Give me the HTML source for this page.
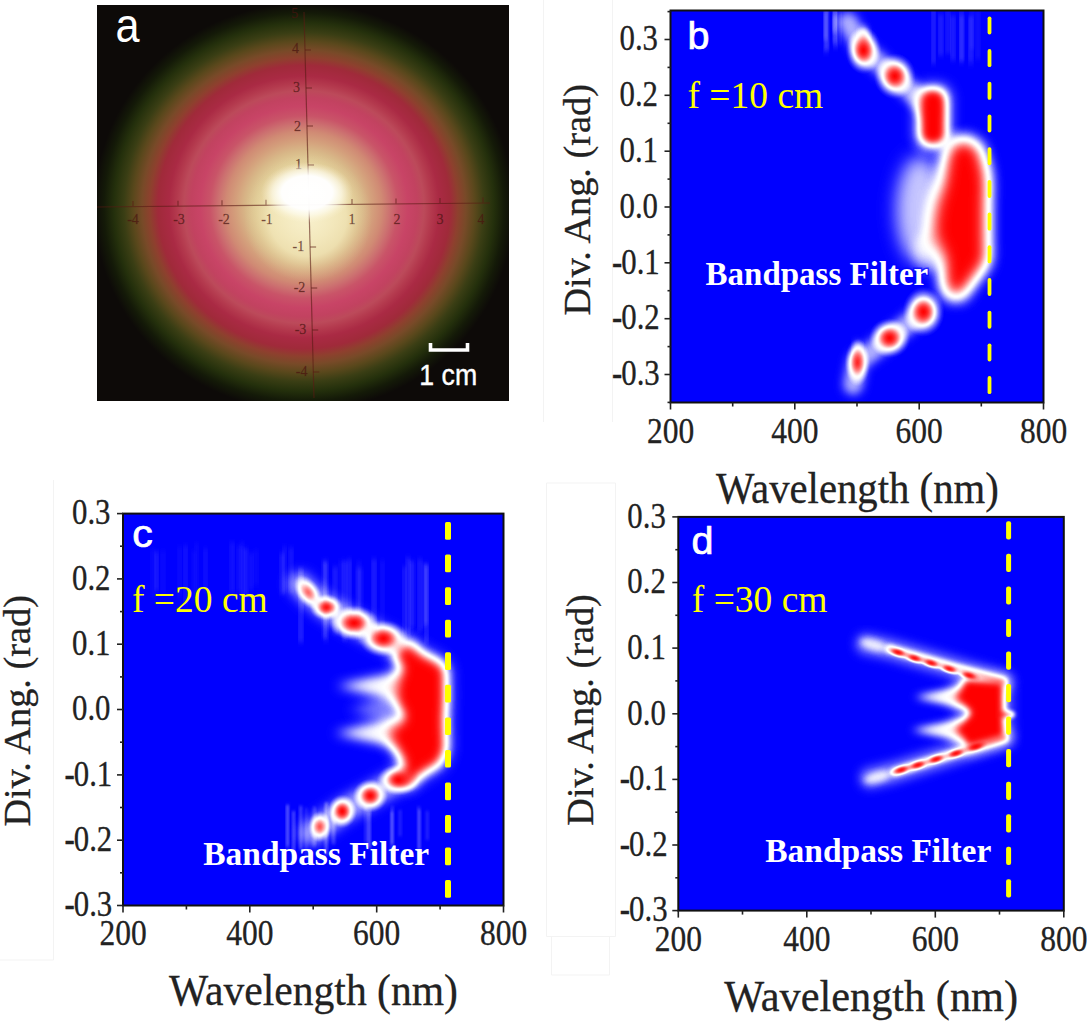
<!DOCTYPE html><html><head><meta charset="utf-8"><style>html,body{margin:0;padding:0;background:#fff;width:1087px;height:1023px;overflow:hidden}svg{display:block}</style></head><body>
<svg width="1087" height="1023" viewBox="0 0 1087 1023">
<defs>
<filter id="g1_8" x="-50%" y="-50%" width="200%" height="200%" color-interpolation-filters="sRGB"><feGaussianBlur stdDeviation="1.8"/></filter><filter id="g2_2" x="-50%" y="-50%" width="200%" height="200%" color-interpolation-filters="sRGB"><feGaussianBlur stdDeviation="2.2"/></filter><filter id="g2_5" x="-50%" y="-50%" width="200%" height="200%" color-interpolation-filters="sRGB"><feGaussianBlur stdDeviation="2.5"/></filter><filter id="g3" x="-50%" y="-50%" width="200%" height="200%" color-interpolation-filters="sRGB"><feGaussianBlur stdDeviation="3"/></filter><filter id="g3_8" x="-50%" y="-50%" width="200%" height="200%" color-interpolation-filters="sRGB"><feGaussianBlur stdDeviation="3.8"/></filter><filter id="g4_5" x="-50%" y="-50%" width="200%" height="200%" color-interpolation-filters="sRGB"><feGaussianBlur stdDeviation="4.5"/></filter><filter id="g5" x="-50%" y="-50%" width="200%" height="200%" color-interpolation-filters="sRGB"><feGaussianBlur stdDeviation="5"/></filter><filter id="g5_5" x="-50%" y="-50%" width="200%" height="200%" color-interpolation-filters="sRGB"><feGaussianBlur stdDeviation="5.5"/></filter><filter id="g6" x="-50%" y="-50%" width="200%" height="200%" color-interpolation-filters="sRGB"><feGaussianBlur stdDeviation="6"/></filter><filter id="g7" x="-50%" y="-50%" width="200%" height="200%" color-interpolation-filters="sRGB"><feGaussianBlur stdDeviation="7"/></filter><filter id="g7_5" x="-50%" y="-50%" width="200%" height="200%" color-interpolation-filters="sRGB"><feGaussianBlur stdDeviation="7.5"/></filter><filter id="g9" x="-50%" y="-50%" width="200%" height="200%" color-interpolation-filters="sRGB"><feGaussianBlur stdDeviation="9"/></filter>
<clipPath id="clipb"><rect x="670.5" y="10.5" width="373.0" height="392.0"/></clipPath>
<clipPath id="clipc"><rect x="123.0" y="513.6" width="380.5" height="391.9"/></clipPath>
<clipPath id="clipd"><rect x="678.3" y="516.9" width="385.5" height="393.7"/></clipPath>
<radialGradient id="rings" gradientUnits="userSpaceOnUse" cx="304" cy="207" r="210" gradientTransform="translate(304 207) scale(1 0.97) translate(-304 -207)">
<stop offset="0.0000" stop-color="#f8f2d0"/>
<stop offset="0.0952" stop-color="#f4ecc2"/>
<stop offset="0.1667" stop-color="#ecdeac"/>
<stop offset="0.2286" stop-color="#e0cc96"/>
<stop offset="0.2762" stop-color="#d8b888"/>
<stop offset="0.3238" stop-color="#d4a07c"/>
<stop offset="0.3714" stop-color="#d08a74"/>
<stop offset="0.4095" stop-color="#cc7070"/>
<stop offset="0.4476" stop-color="#c95468"/>
<stop offset="0.4952" stop-color="#c84466"/>
<stop offset="0.5381" stop-color="#c24260"/>
<stop offset="0.5714" stop-color="#bc4a5a"/>
<stop offset="0.6048" stop-color="#b43a4e"/>
<stop offset="0.6429" stop-color="#aa2a44"/>
<stop offset="0.6952" stop-color="#a02a3a"/>
<stop offset="0.7333" stop-color="#8e402e"/>
<stop offset="0.7714" stop-color="#784a28"/>
<stop offset="0.8143" stop-color="#5a481c"/>
<stop offset="0.8571" stop-color="#3a3e14"/>
<stop offset="0.9048" stop-color="#24300c"/>
<stop offset="0.9524" stop-color="#141a08"/>
<stop offset="1.0000" stop-color="#0d0a08"/>
</radialGradient>
<radialGradient id="spot" gradientUnits="userSpaceOnUse" cx="307" cy="192.5" r="46" gradientTransform="translate(307 192.5) scale(1 0.66) translate(-307 -192.5)">
<stop offset="0" stop-color="#ffffff" stop-opacity="1"/>
<stop offset="0.55" stop-color="#ffffff" stop-opacity="0.97"/>
<stop offset="0.75" stop-color="#fffef4" stop-opacity="0.6"/>
<stop offset="0.9" stop-color="#fffae6" stop-opacity="0.2"/>
<stop offset="1" stop-color="#fff8e0" stop-opacity="0"/>
</radialGradient>
<radialGradient id="cream" gradientUnits="userSpaceOnUse" cx="308" cy="218" r="64">
<stop offset="0" stop-color="#f8f0cc" stop-opacity="0.9"/>
<stop offset="0.6" stop-color="#f2e6b8" stop-opacity="0.75"/>
<stop offset="0.8" stop-color="#e8d4a0" stop-opacity="0.35"/>
<stop offset="1" stop-color="#e0c898" stop-opacity="0"/>
</radialGradient>
<filter id="cmap" x="0" y="0" width="1" height="1" color-interpolation-filters="sRGB"><feComponentTransfer><feFuncR type="table" tableValues="0 0.1 0.21 0.33 0.45 0.57 0.69 0.8 0.9 0.97 1 1 1 1 1 1 1 1 1 1 1"/><feFuncG type="table" tableValues="0 0.1 0.21 0.33 0.45 0.57 0.69 0.8 0.9 0.97 1 0.97 0.9 0.8 0.69 0.57 0.45 0.33 0.21 0.1 0"/><feFuncB type="table" tableValues="1 1 1 1 1 1 1 1 1 1 1 0.97 0.9 0.8 0.69 0.57 0.45 0.33 0.21 0.1 0"/></feComponentTransfer></filter>
<radialGradient id="gsp"><stop offset="0" stop-color="#fff" stop-opacity="1"/><stop offset="0.1" stop-color="#fff" stop-opacity="0.96"/><stop offset="0.2" stop-color="#fff" stop-opacity="0.89"/><stop offset="0.3" stop-color="#fff" stop-opacity="0.79"/><stop offset="0.4" stop-color="#fff" stop-opacity="0.66"/><stop offset="0.5" stop-color="#fff" stop-opacity="0.5"/><stop offset="0.6" stop-color="#fff" stop-opacity="0.34"/><stop offset="0.7" stop-color="#fff" stop-opacity="0.22"/><stop offset="0.8" stop-color="#fff" stop-opacity="0.13"/><stop offset="0.9" stop-color="#fff" stop-opacity="0.05"/><stop offset="1" stop-color="#fff" stop-opacity="0"/></radialGradient>
</defs>
<g stroke="#f3f3f3" stroke-width="1" fill="none">
<path d="M543.5 0 V422 M612.5 0 V422"/>
<path d="M53.5 480 V960 H0"/>
<path d="M546.5 483 H615.5 V936.5 H546.5 Z M551.5 936.5 V975 H609.5 V936.5"/>
</g>
<rect x="97" y="5" width="412" height="396" fill="#0e0a08"/>
<rect x="97" y="5" width="412" height="396" fill="url(#rings)"/>
<rect x="97" y="5" width="412" height="396" fill="url(#cream)"/>
<g stroke="#5a1a14" stroke-opacity="0.6" stroke-width="1.2" fill="none">
<line x1="97" y1="207" x2="490" y2="203"/>
<line x1="304" y1="12" x2="314" y2="398"/>
<line x1="133" y1="201.1" x2="133" y2="206.1"/>
<line x1="178" y1="200.7" x2="178" y2="205.7"/>
<line x1="222" y1="200.2" x2="222" y2="205.2"/>
<line x1="266" y1="199.8" x2="266" y2="204.8"/>
<line x1="352" y1="198.9" x2="352" y2="203.9"/>
<line x1="396" y1="198.5" x2="396" y2="203.5"/>
<line x1="440" y1="198.0" x2="440" y2="203.0"/>
<line x1="483" y1="197.6" x2="483" y2="202.6"/>
<line x1="305.0" y1="50" x2="311.0" y2="50"/>
<line x1="306.0" y1="88" x2="312.0" y2="88"/>
<line x1="307.0" y1="126" x2="313.0" y2="126"/>
<line x1="308.0" y1="165" x2="314.0" y2="165"/>
<line x1="310.1" y1="247" x2="316.1" y2="247"/>
<line x1="311.2" y1="288" x2="317.2" y2="288"/>
<line x1="312.2" y1="330" x2="318.2" y2="330"/>
<line x1="313.3" y1="372" x2="319.3" y2="372"/>
</g>
<g font-family="'Liberation Serif', serif" font-size="14" fill="#4a1410" fill-opacity="0.7" stroke="#4a1410" stroke-opacity="0.4" stroke-width="0.4" text-anchor="middle">
<text x="133" y="223.5">-4</text>
<text x="179" y="223.5">-3</text>
<text x="224" y="223.5">-2</text>
<text x="267" y="223.5">-1</text>
<text x="352" y="223.5">1</text>
<text x="397" y="223.5">2</text>
<text x="440" y="223.5">3</text>
<text x="481" y="223.5">4</text>
<text x="298.2" y="18" text-anchor="end">5</text>
<text x="299.1" y="53" text-anchor="end">4</text>
<text x="300.1" y="92" text-anchor="end">3</text>
<text x="301.1" y="131" text-anchor="end">2</text>
<text x="302.1" y="169" text-anchor="end">1</text>
<text x="304.2" y="251" text-anchor="end">-1</text>
<text x="305.3" y="292" text-anchor="end">-2</text>
<text x="306.3" y="334" text-anchor="end">-3</text>
<text x="307.4" y="376" text-anchor="end">-4</text>
</g>
<rect x="97" y="5" width="412" height="396" fill="url(#spot)"/>
<text transform="translate(115.6 41.8) scale(0.9 1)" font-family="'Liberation Sans', sans-serif" font-size="48" fill="#fff">a</text>
<path d="M430.5 343 V350 H467.5 V343" stroke="#fff" stroke-width="3.6" fill="none"/>
<text transform="translate(419.3 384.8) scale(0.92 1)" font-family="'Liberation Sans', sans-serif" font-size="29" fill="#fff" stroke="#fff" stroke-width="0.4">1 cm</text>
<g clip-path="url(#clipb)"><g filter="url(#cmap)">
<rect x="650.5" y="-9.5" width="413.0" height="432.0" fill="#000"/>
<rect x="824.3" y="11.0" width="2.4" height="29.4" rx="1.2" fill="#fff" fill-opacity="0.165" filter="url(#g2_5)"/>
<rect x="833.2" y="5.7" width="2.4" height="27.5" rx="1.2" fill="#fff" fill-opacity="0.197" filter="url(#g2_5)"/>
<rect x="824.8" y="7.6" width="2.4" height="45.3" rx="1.2" fill="#fff" fill-opacity="0.146" filter="url(#g2_5)"/>
<rect x="838.0" y="10.2" width="2.4" height="35.5" rx="1.2" fill="#fff" fill-opacity="0.101" filter="url(#g2_5)"/>
<rect x="833.4" y="14.5" width="2.4" height="28.9" rx="1.2" fill="#fff" fill-opacity="0.184" filter="url(#g2_5)"/>
<rect x="834.2" y="5.7" width="2.4" height="42.5" rx="1.2" fill="#fff" fill-opacity="0.163" filter="url(#g2_5)"/>
<rect x="825.7" y="5.3" width="2.4" height="45.0" rx="1.2" fill="#fff" fill-opacity="0.146" filter="url(#g2_5)"/>
<rect x="960.5" y="14.7" width="2.4" height="46.6" rx="1.2" fill="#fff" fill-opacity="0.142" filter="url(#g2_5)"/>
<rect x="939.5" y="13.8" width="2.4" height="42.1" rx="1.2" fill="#fff" fill-opacity="0.144" filter="url(#g2_5)"/>
<rect x="970.9" y="6.1" width="2.4" height="43.6" rx="1.2" fill="#fff" fill-opacity="0.072" filter="url(#g2_5)"/>
<rect x="976.6" y="9.8" width="2.4" height="49.7" rx="1.2" fill="#fff" fill-opacity="0.080" filter="url(#g2_5)"/>
<rect x="946.8" y="9.2" width="2.4" height="44.8" rx="1.2" fill="#fff" fill-opacity="0.109" filter="url(#g2_5)"/>
<rect x="951.8" y="14.9" width="2.4" height="45.7" rx="1.2" fill="#fff" fill-opacity="0.143" filter="url(#g2_5)"/>
<rect x="969.5" y="15.9" width="2.4" height="44.5" rx="1.2" fill="#fff" fill-opacity="0.066" filter="url(#g2_5)"/>
<rect x="969.7" y="15.6" width="2.4" height="49.5" rx="1.2" fill="#fff" fill-opacity="0.107" filter="url(#g2_5)"/>
<rect x="960.2" y="7.3" width="2.4" height="56.3" rx="1.2" fill="#fff" fill-opacity="0.107" filter="url(#g2_5)"/>
<rect x="932.3" y="5.7" width="2.4" height="58.4" rx="1.2" fill="#fff" fill-opacity="0.149" filter="url(#g2_5)"/>
<polyline points="848.0,22.0 863.5,50.0 894.8,76.0 930.0,110.0" fill="none" stroke="#fff" stroke-opacity="0.300" stroke-width="20.0" stroke-linecap="round" stroke-linejoin="round" filter="url(#g5)"/>
<polyline points="923.5,311.8 889.6,338.0 857.5,362.0 853.0,385.0" fill="none" stroke="#fff" stroke-opacity="0.300" stroke-width="20.0" stroke-linecap="round" stroke-linejoin="round" filter="url(#g5)"/>
<ellipse cx="920.0" cy="210.0" rx="24.0" ry="54.0" fill="#fff" fill-opacity="0.340" filter="url(#g9)"/>
<ellipse cx="930.0" cy="252.0" rx="14.0" ry="20.0" fill="#fff" fill-opacity="0.220" filter="url(#g6)"/>
<g opacity="0.250" filter="url(#g7)"><polygon points="965.7,139.0 979.0,147.0 985.5,169.0 987.0,180.0 986.5,209.0 986.5,235.0 987.0,261.0 980.0,271.0 969.5,285.0 961.0,297.0 949.0,296.0 944.0,285.0 943.0,258.0 934.5,240.0 932.5,228.5 936.0,204.0 942.5,183.0 946.0,157.0 951.5,143.0" fill="#fff" stroke="#fff" stroke-width="10.0" stroke-linejoin="round"/></g>
<g opacity="1.000" filter="url(#g7_5)"><polygon points="965.7,139.0 979.0,147.0 985.5,169.0 987.0,180.0 986.5,209.0 986.5,235.0 987.0,261.0 980.0,271.0 969.5,285.0 961.0,297.0 949.0,296.0 944.0,285.0 943.0,258.0 934.5,240.0 932.5,228.5 936.0,204.0 942.5,183.0 946.0,157.0 951.5,143.0" fill="#fff"/></g>
<rect x="914.0" y="83.0" width="38.0" height="68.0" rx="15.0" fill="#fff" fill-opacity="0.300" filter="url(#g6)"/>
<rect x="920.5" y="89.5" width="25.0" height="55.0" rx="11.0" fill="#fff" fill-opacity="1.000" filter="url(#g4_5)"/>
<ellipse cx="863.5" cy="50.3" rx="18.0" ry="24.0" fill="url(#gsp)" fill-opacity="1.00"/>
<ellipse cx="894.8" cy="76.2" rx="21.0" ry="23.0" fill="url(#gsp)" fill-opacity="1.00"/>
<ellipse cx="923.5" cy="311.8" rx="21.0" ry="25.0" fill="url(#gsp)" fill-opacity="1.00"/>
<ellipse cx="889.6" cy="338.0" rx="21.0" ry="20.0" fill="url(#gsp)" fill-opacity="1.00"/>
<ellipse cx="857.5" cy="362.5" rx="13.0" ry="24.0" fill="url(#gsp)" fill-opacity="0.90"/>
<ellipse cx="857.5" cy="350.0" rx="3.0" ry="10.0" fill="#fff" fill-opacity="0.300" filter="url(#g3)"/>
<ellipse cx="864.0" cy="36.0" rx="4.0" ry="10.0" fill="#fff" fill-opacity="0.350" filter="url(#g3)"/>
</g></g>
<g clip-path="url(#clipc)"><g filter="url(#cmap)">
<rect x="103.0" y="493.6" width="420.5" height="431.9" fill="#000"/>
<rect x="162.1" y="550.8" width="2.4" height="42.4" rx="1.2" fill="#fff" fill-opacity="0.052" filter="url(#g2_5)"/>
<rect x="192.9" y="550.5" width="2.4" height="52.0" rx="1.2" fill="#fff" fill-opacity="0.044" filter="url(#g2_5)"/>
<rect x="241.0" y="542.5" width="2.4" height="56.9" rx="1.2" fill="#fff" fill-opacity="0.066" filter="url(#g2_5)"/>
<rect x="280.9" y="552.8" width="2.4" height="42.3" rx="1.2" fill="#fff" fill-opacity="0.120" filter="url(#g2_5)"/>
<rect x="195.3" y="542.8" width="2.4" height="54.1" rx="1.2" fill="#fff" fill-opacity="0.043" filter="url(#g2_5)"/>
<rect x="178.4" y="546.5" width="2.4" height="50.7" rx="1.2" fill="#fff" fill-opacity="0.052" filter="url(#g2_5)"/>
<rect x="155.2" y="551.5" width="2.4" height="39.7" rx="1.2" fill="#fff" fill-opacity="0.117" filter="url(#g2_5)"/>
<rect x="283.3" y="546.2" width="2.4" height="48.1" rx="1.2" fill="#fff" fill-opacity="0.082" filter="url(#g2_5)"/>
<rect x="245.4" y="548.6" width="2.4" height="47.6" rx="1.2" fill="#fff" fill-opacity="0.090" filter="url(#g2_5)"/>
<rect x="289.9" y="547.6" width="2.4" height="46.0" rx="1.2" fill="#fff" fill-opacity="0.098" filter="url(#g2_5)"/>
<rect x="184.4" y="545.3" width="2.4" height="59.2" rx="1.2" fill="#fff" fill-opacity="0.082" filter="url(#g2_5)"/>
<rect x="231.1" y="542.1" width="2.4" height="51.2" rx="1.2" fill="#fff" fill-opacity="0.086" filter="url(#g2_5)"/>
<rect x="151.8" y="548.8" width="2.4" height="48.9" rx="1.2" fill="#fff" fill-opacity="0.045" filter="url(#g2_5)"/>
<rect x="242.9" y="547.1" width="2.4" height="51.5" rx="1.2" fill="#fff" fill-opacity="0.068" filter="url(#g2_5)"/>
<rect x="254.8" y="550.1" width="2.4" height="35.3" rx="1.2" fill="#fff" fill-opacity="0.045" filter="url(#g2_5)"/>
<rect x="250.2" y="552.6" width="2.4" height="37.4" rx="1.2" fill="#fff" fill-opacity="0.077" filter="url(#g2_5)"/>
<rect x="237.7" y="545.5" width="2.4" height="46.8" rx="1.2" fill="#fff" fill-opacity="0.065" filter="url(#g2_5)"/>
<rect x="204.2" y="548.6" width="2.4" height="42.5" rx="1.2" fill="#fff" fill-opacity="0.070" filter="url(#g2_5)"/>
<rect x="406.9" y="557.3" width="2.4" height="79.1" rx="1.2" fill="#fff" fill-opacity="0.131" filter="url(#g2_5)"/>
<rect x="342.2" y="559.4" width="2.4" height="81.6" rx="1.2" fill="#fff" fill-opacity="0.076" filter="url(#g2_5)"/>
<rect x="325.0" y="561.8" width="2.4" height="77.2" rx="1.2" fill="#fff" fill-opacity="0.061" filter="url(#g2_5)"/>
<rect x="343.9" y="560.7" width="2.4" height="81.0" rx="1.2" fill="#fff" fill-opacity="0.098" filter="url(#g2_5)"/>
<rect x="418.6" y="558.9" width="2.4" height="72.9" rx="1.2" fill="#fff" fill-opacity="0.122" filter="url(#g2_5)"/>
<rect x="422.7" y="562.0" width="2.4" height="67.5" rx="1.2" fill="#fff" fill-opacity="0.063" filter="url(#g2_5)"/>
<rect x="372.9" y="559.1" width="2.4" height="82.0" rx="1.2" fill="#fff" fill-opacity="0.142" filter="url(#g2_5)"/>
<rect x="324.5" y="560.1" width="2.4" height="81.1" rx="1.2" fill="#fff" fill-opacity="0.121" filter="url(#g2_5)"/>
<rect x="411.7" y="560.8" width="2.4" height="66.8" rx="1.2" fill="#fff" fill-opacity="0.082" filter="url(#g2_5)"/>
<rect x="409.9" y="560.0" width="2.4" height="71.9" rx="1.2" fill="#fff" fill-opacity="0.096" filter="url(#g2_5)"/>
<rect x="357.6" y="561.5" width="2.4" height="81.9" rx="1.2" fill="#fff" fill-opacity="0.067" filter="url(#g2_5)"/>
<rect x="299.5" y="567.4" width="2.4" height="75.2" rx="1.2" fill="#fff" fill-opacity="0.159" filter="url(#g2_5)"/>
<rect x="359.6" y="567.5" width="2.4" height="76.1" rx="1.2" fill="#fff" fill-opacity="0.074" filter="url(#g2_5)"/>
<rect x="403.2" y="566.2" width="2.4" height="72.1" rx="1.2" fill="#fff" fill-opacity="0.107" filter="url(#g2_5)"/>
<rect x="339.3" y="560.8" width="2.4" height="68.8" rx="1.2" fill="#fff" fill-opacity="0.057" filter="url(#g2_5)"/>
<rect x="381.2" y="560.2" width="2.4" height="81.0" rx="1.2" fill="#fff" fill-opacity="0.055" filter="url(#g2_5)"/>
<rect x="425.3" y="564.6" width="2.4" height="78.8" rx="1.2" fill="#fff" fill-opacity="0.149" filter="url(#g2_5)"/>
<rect x="424.8" y="563.3" width="2.4" height="61.9" rx="1.2" fill="#fff" fill-opacity="0.132" filter="url(#g2_5)"/>
<rect x="322.9" y="560.3" width="2.4" height="78.0" rx="1.2" fill="#fff" fill-opacity="0.108" filter="url(#g2_5)"/>
<rect x="356.7" y="567.3" width="2.4" height="69.9" rx="1.2" fill="#fff" fill-opacity="0.088" filter="url(#g2_5)"/>
<rect x="334.1" y="566.5" width="2.4" height="68.1" rx="1.2" fill="#fff" fill-opacity="0.136" filter="url(#g2_5)"/>
<rect x="348.1" y="559.2" width="2.4" height="76.5" rx="1.2" fill="#fff" fill-opacity="0.140" filter="url(#g2_5)"/>
<rect x="292.4" y="810.7" width="2.4" height="50.7" rx="1.2" fill="#fff" fill-opacity="0.177" filter="url(#g1_8)"/>
<rect x="325.0" y="802.1" width="2.4" height="53.5" rx="1.2" fill="#fff" fill-opacity="0.184" filter="url(#g1_8)"/>
<rect x="286.3" y="805.0" width="2.4" height="43.4" rx="1.2" fill="#fff" fill-opacity="0.143" filter="url(#g1_8)"/>
<rect x="304.9" y="807.2" width="2.4" height="51.3" rx="1.2" fill="#fff" fill-opacity="0.080" filter="url(#g1_8)"/>
<rect x="286.5" y="803.4" width="2.4" height="42.1" rx="1.2" fill="#fff" fill-opacity="0.088" filter="url(#g1_8)"/>
<rect x="332.5" y="811.4" width="2.4" height="33.3" rx="1.2" fill="#fff" fill-opacity="0.140" filter="url(#g1_8)"/>
<rect x="299.6" y="805.5" width="2.4" height="44.6" rx="1.2" fill="#fff" fill-opacity="0.158" filter="url(#g1_8)"/>
<rect x="313.1" y="806.0" width="2.4" height="40.9" rx="1.2" fill="#fff" fill-opacity="0.119" filter="url(#g1_8)"/>
<rect x="368.1" y="808.1" width="2.4" height="41.2" rx="1.2" fill="#fff" fill-opacity="0.084" filter="url(#g1_8)"/>
<rect x="364.8" y="804.0" width="2.4" height="38.5" rx="1.2" fill="#fff" fill-opacity="0.104" filter="url(#g1_8)"/>
<rect x="417.5" y="806.2" width="2.4" height="44.8" rx="1.2" fill="#fff" fill-opacity="0.106" filter="url(#g1_8)"/>
<rect x="391.2" y="806.1" width="2.4" height="38.8" rx="1.2" fill="#fff" fill-opacity="0.113" filter="url(#g1_8)"/>
<rect x="390.3" y="809.6" width="2.4" height="34.6" rx="1.2" fill="#fff" fill-opacity="0.072" filter="url(#g1_8)"/>
<rect x="399.0" y="809.6" width="2.4" height="26.8" rx="1.2" fill="#fff" fill-opacity="0.088" filter="url(#g1_8)"/>
<rect x="390.7" y="811.7" width="2.4" height="42.1" rx="1.2" fill="#fff" fill-opacity="0.084" filter="url(#g1_8)"/>
<rect x="426.1" y="810.7" width="2.4" height="29.5" rx="1.2" fill="#fff" fill-opacity="0.092" filter="url(#g1_8)"/>
<rect x="368.0" y="810.9" width="2.4" height="37.3" rx="1.2" fill="#fff" fill-opacity="0.130" filter="url(#g1_8)"/>
<rect x="418.2" y="809.3" width="2.4" height="40.3" rx="1.2" fill="#fff" fill-opacity="0.101" filter="url(#g1_8)"/>
<polyline points="300.0,584.0 308.2,592.4 326.4,607.8 353.8,623.0 382.7,638.2 405.0,650.0" fill="none" stroke="#fff" stroke-opacity="0.280" stroke-width="24.0" stroke-linecap="round" stroke-linejoin="round" filter="url(#g6)"/>
<polyline points="405.0,778.0 398.5,779.8 370.3,795.7 342.2,811.3 319.8,826.7 312.0,833.0" fill="none" stroke="#fff" stroke-opacity="0.280" stroke-width="24.0" stroke-linecap="round" stroke-linejoin="round" filter="url(#g6)"/>
<g opacity="0.500" filter="url(#g6)"><polygon points="402.0,672.0 402.0,700.0 336.0,686.0" fill="#fff"/></g>
<g opacity="0.500" filter="url(#g6)"><polygon points="402.0,718.0 402.0,748.0 334.0,733.0" fill="#fff"/></g>
<g opacity="0.220" filter="url(#g7)"><polygon points="395.0,690.0 395.0,728.0 350.0,710.0" fill="#fff"/></g>
<g opacity="0.300" filter="url(#g7)"><polygon points="397.6,648.0 409.2,645.3 422.5,654.5 439.0,662.7 444.8,669.4 445.0,700.0 444.0,720.0 445.0,749.7 439.0,763.0 422.5,772.9 409.2,782.8 402.0,780.0 404.3,763.0 395.0,745.0 390.0,733.0 398.0,725.0 405.0,716.6 398.0,705.0 396.0,694.0 398.0,680.0 403.0,668.0 398.0,660.0" fill="#fff" stroke="#fff" stroke-width="12.0" stroke-linejoin="round"/></g>
<g opacity="1.000" filter="url(#g5_5)"><polygon points="397.6,648.0 409.2,645.3 422.5,654.5 439.0,662.7 444.8,669.4 445.0,700.0 444.0,720.0 445.0,749.7 439.0,763.0 422.5,772.9 409.2,782.8 402.0,780.0 404.3,763.0 395.0,745.0 390.0,733.0 398.0,725.0 405.0,716.6 398.0,705.0 396.0,694.0 398.0,680.0 403.0,668.0 398.0,660.0" fill="#fff"/></g>
<ellipse cx="308.2" cy="592.4" rx="12.0" ry="20.0" fill="url(#gsp)" fill-opacity="0.75" transform="rotate(-35 308.2 592.4)"/>
<ellipse cx="326.5" cy="607.3" rx="17.0" ry="13.6" fill="url(#gsp)" fill-opacity="0.95"/>
<ellipse cx="354.1" cy="623.0" rx="25.0" ry="18.0" fill="url(#gsp)" fill-opacity="1.00"/>
<ellipse cx="383.4" cy="638.5" rx="25.0" ry="19.0" fill="url(#gsp)" fill-opacity="1.00"/>
<ellipse cx="398.5" cy="779.8" rx="22.0" ry="16.0" fill="url(#gsp)" fill-opacity="1.00"/>
<ellipse cx="370.3" cy="795.7" rx="18.0" ry="17.0" fill="url(#gsp)" fill-opacity="1.00"/>
<ellipse cx="342.2" cy="811.3" rx="15.0" ry="17.0" fill="url(#gsp)" fill-opacity="1.00"/>
<ellipse cx="319.8" cy="826.7" rx="12.0" ry="16.0" fill="url(#gsp)" fill-opacity="0.80"/>
</g></g>
<g clip-path="url(#clipd)"><g filter="url(#cmap)">
<rect x="658.3" y="496.9" width="425.5" height="433.7" fill="#000"/>
<polyline points="866.0,644.0 888.0,648.5 1003.0,681.5" fill="none" stroke="#fff" stroke-opacity="0.200" stroke-width="22.0" stroke-linecap="round" stroke-linejoin="round" filter="url(#g5)"/>
<polyline points="870.0,778.0 893.0,772.5 1004.0,738.0" fill="none" stroke="#fff" stroke-opacity="0.200" stroke-width="22.0" stroke-linecap="round" stroke-linejoin="round" filter="url(#g5)"/>
<g opacity="0.300" filter="url(#g7)"><polygon points="966.0,679.7 1003.0,683.0 1004.0,736.0 969.0,746.0 956.0,729.4 972.5,712.8 956.0,698.0" fill="#fff" stroke="#fff" stroke-width="12.0" stroke-linejoin="round"/></g>
<ellipse cx="874.0" cy="645.0" rx="14.0" ry="5.0" fill="#fff" fill-opacity="0.300" filter="url(#g3)" transform="rotate(16 874.0 645.0)"/>
<ellipse cx="878.0" cy="777.0" rx="14.0" ry="5.0" fill="#fff" fill-opacity="0.300" filter="url(#g3)" transform="rotate(-16 878.0 777.0)"/>
<g opacity="0.520" filter="url(#g4_5)"><polygon points="964.0,686.0 964.0,708.0 914.0,697.0" fill="#fff"/></g>
<g opacity="0.520" filter="url(#g4_5)"><polygon points="964.0,719.0 964.0,741.0 911.0,730.0" fill="#fff"/></g>
<polyline points="890.0,649.0 1003.0,681.5" fill="none" stroke="#fff" stroke-opacity="0.500" stroke-width="8.0" stroke-linecap="round" stroke-linejoin="round" filter="url(#g2_5)"/>
<polyline points="895.0,772.0 1004.0,738.0" fill="none" stroke="#fff" stroke-opacity="0.500" stroke-width="8.0" stroke-linecap="round" stroke-linejoin="round" filter="url(#g2_5)"/>
<g opacity="1.000" filter="url(#g3_8)"><polygon points="966.0,680.5 1002.0,683.0 1003.0,736.0 969.0,745.5 957.0,729.4 972.5,712.8 957.0,698.0" fill="#fff" stroke="#fff" stroke-width="2.0" stroke-linejoin="round"/></g>
<ellipse cx="898.0" cy="652.4" rx="13.0" ry="5.6" fill="url(#gsp)" fill-opacity="0.95" transform="rotate(17 898.0 652.4)"/>
<ellipse cx="914.6" cy="658.2" rx="13.0" ry="5.6" fill="url(#gsp)" fill-opacity="0.95" transform="rotate(17 914.6 658.2)"/>
<ellipse cx="931.1" cy="663.1" rx="13.0" ry="5.6" fill="url(#gsp)" fill-opacity="0.95" transform="rotate(17 931.1 663.1)"/>
<ellipse cx="949.4" cy="668.9" rx="13.0" ry="5.6" fill="url(#gsp)" fill-opacity="0.95" transform="rotate(17 949.4 668.9)"/>
<ellipse cx="969.2" cy="675.5" rx="13.0" ry="5.6" fill="url(#gsp)" fill-opacity="0.95" transform="rotate(17 969.2 675.5)"/>
<ellipse cx="901.3" cy="769.9" rx="13.0" ry="5.6" fill="url(#gsp)" fill-opacity="0.95" transform="rotate(-17 901.3 769.9)"/>
<ellipse cx="917.9" cy="765.0" rx="13.0" ry="5.6" fill="url(#gsp)" fill-opacity="0.95" transform="rotate(-17 917.9 765.0)"/>
<ellipse cx="936.1" cy="759.2" rx="13.0" ry="5.6" fill="url(#gsp)" fill-opacity="0.95" transform="rotate(-17 936.1 759.2)"/>
<ellipse cx="956.0" cy="753.4" rx="13.0" ry="5.6" fill="url(#gsp)" fill-opacity="0.95" transform="rotate(-17 956.0 753.4)"/>
<ellipse cx="975.8" cy="746.7" rx="13.0" ry="5.6" fill="url(#gsp)" fill-opacity="0.95" transform="rotate(-17 975.8 746.7)"/>
<ellipse cx="1006.0" cy="714.5" rx="9.0" ry="3.5" fill="#fff" fill-opacity="0.620" filter="url(#g2_2)"/>
</g></g>
<rect x="987.6" y="16.4" width="3.8" height="18.0" rx="1.9" fill="#ffff00"/>
<rect x="987.6" y="49.1" width="3.8" height="18.0" rx="1.9" fill="#ffff00"/>
<rect x="987.6" y="81.8" width="3.8" height="18.0" rx="1.9" fill="#ffff00"/>
<rect x="987.6" y="114.5" width="3.8" height="18.0" rx="1.9" fill="#ffff00"/>
<rect x="987.6" y="147.2" width="3.8" height="18.0" rx="1.9" fill="#ffff00"/>
<rect x="987.6" y="179.9" width="3.8" height="18.0" rx="1.9" fill="#ffff00"/>
<rect x="987.6" y="212.6" width="3.8" height="18.0" rx="1.9" fill="#ffff00"/>
<rect x="987.6" y="245.3" width="3.8" height="18.0" rx="1.9" fill="#ffff00"/>
<rect x="987.6" y="278.0" width="3.8" height="18.0" rx="1.9" fill="#ffff00"/>
<rect x="987.6" y="310.7" width="3.8" height="18.0" rx="1.9" fill="#ffff00"/>
<rect x="987.6" y="343.4" width="3.8" height="18.0" rx="1.9" fill="#ffff00"/>
<rect x="987.6" y="376.1" width="3.8" height="18.0" rx="1.9" fill="#ffff00"/>
<rect x="445.0" y="522.1" width="6.0" height="17.7" rx="1.5" fill="#ffff00"/>
<rect x="445.0" y="554.6" width="6.0" height="17.7" rx="1.5" fill="#ffff00"/>
<rect x="445.0" y="587.2" width="6.0" height="17.7" rx="1.5" fill="#ffff00"/>
<rect x="445.0" y="619.7" width="6.0" height="17.7" rx="1.5" fill="#ffff00"/>
<rect x="445.0" y="652.3" width="6.0" height="17.7" rx="1.5" fill="#ffff00"/>
<rect x="445.0" y="684.8" width="6.0" height="17.7" rx="1.5" fill="#ffff00"/>
<rect x="445.0" y="717.4" width="6.0" height="17.7" rx="1.5" fill="#ffff00"/>
<rect x="445.0" y="749.9" width="6.0" height="17.7" rx="1.5" fill="#ffff00"/>
<rect x="445.0" y="782.5" width="6.0" height="17.7" rx="1.5" fill="#ffff00"/>
<rect x="445.0" y="815.0" width="6.0" height="17.7" rx="1.5" fill="#ffff00"/>
<rect x="445.0" y="847.6" width="6.0" height="17.7" rx="1.5" fill="#ffff00"/>
<rect x="445.0" y="880.1" width="6.0" height="17.7" rx="1.5" fill="#ffff00"/>
<rect x="1006.1" y="521.3" width="5.0" height="18.2" rx="2.0" fill="#ffff00"/>
<rect x="1006.1" y="553.8" width="5.0" height="18.2" rx="2.0" fill="#ffff00"/>
<rect x="1006.1" y="586.4" width="5.0" height="18.2" rx="2.0" fill="#ffff00"/>
<rect x="1006.1" y="618.9" width="5.0" height="18.2" rx="2.0" fill="#ffff00"/>
<rect x="1006.1" y="651.5" width="5.0" height="18.2" rx="2.0" fill="#ffff00"/>
<rect x="1006.1" y="684.0" width="5.0" height="18.2" rx="2.0" fill="#ffff00"/>
<rect x="1006.1" y="716.6" width="5.0" height="18.2" rx="2.0" fill="#ffff00"/>
<rect x="1006.1" y="749.1" width="5.0" height="18.2" rx="2.0" fill="#ffff00"/>
<rect x="1006.1" y="781.7" width="5.0" height="18.2" rx="2.0" fill="#ffff00"/>
<rect x="1006.1" y="814.2" width="5.0" height="18.2" rx="2.0" fill="#ffff00"/>
<rect x="1006.1" y="846.8" width="5.0" height="18.2" rx="2.0" fill="#ffff00"/>
<rect x="1006.1" y="879.3" width="5.0" height="18.2" rx="2.0" fill="#ffff00"/>
<rect x="670.5" y="10.5" width="373.0" height="392.0" fill="none" stroke="#111" stroke-width="2"/>
<g stroke="#222" stroke-width="1.6">
<line x1="664.5" y1="374.5" x2="670.5" y2="374.5"/>
<line x1="664.5" y1="318.7" x2="670.5" y2="318.7"/>
<line x1="664.5" y1="262.8" x2="670.5" y2="262.8"/>
<line x1="664.5" y1="207.0" x2="670.5" y2="207.0"/>
<line x1="664.5" y1="151.2" x2="670.5" y2="151.2"/>
<line x1="664.5" y1="95.3" x2="670.5" y2="95.3"/>
<line x1="664.5" y1="39.5" x2="670.5" y2="39.5"/>
<line x1="667.5" y1="402.4" x2="670.5" y2="402.4"/>
<line x1="667.5" y1="346.6" x2="670.5" y2="346.6"/>
<line x1="667.5" y1="290.7" x2="670.5" y2="290.7"/>
<line x1="667.5" y1="234.9" x2="670.5" y2="234.9"/>
<line x1="667.5" y1="179.1" x2="670.5" y2="179.1"/>
<line x1="667.5" y1="123.3" x2="670.5" y2="123.3"/>
<line x1="667.5" y1="67.4" x2="670.5" y2="67.4"/>
<line x1="667.5" y1="11.6" x2="670.5" y2="11.6"/>
<line x1="670.5" y1="402.5" x2="670.5" y2="409.5"/>
<line x1="794.8" y1="402.5" x2="794.8" y2="409.5"/>
<line x1="919.2" y1="402.5" x2="919.2" y2="409.5"/>
<line x1="1043.5" y1="402.5" x2="1043.5" y2="409.5"/>
<line x1="732.7" y1="402.5" x2="732.7" y2="406.5"/>
<line x1="857.0" y1="402.5" x2="857.0" y2="406.5"/>
<line x1="981.3" y1="402.5" x2="981.3" y2="406.5"/>
</g>
<text transform="translate(658.00 50.31) scale(0.880 1)" font-family="'Liberation Serif', serif" font-size="35.0" font-weight="normal" fill="#222222" text-anchor="end" stroke="#222222" stroke-width="0.3">0.3</text>
<text transform="translate(658.00 106.14) scale(0.880 1)" font-family="'Liberation Serif', serif" font-size="35.0" font-weight="normal" fill="#222222" text-anchor="end" stroke="#222222" stroke-width="0.3">0.2</text>
<text transform="translate(658.00 161.97) scale(0.880 1)" font-family="'Liberation Serif', serif" font-size="35.0" font-weight="normal" fill="#222222" text-anchor="end" stroke="#222222" stroke-width="0.3">0.1</text>
<text transform="translate(658.00 217.80) scale(0.880 1)" font-family="'Liberation Serif', serif" font-size="35.0" font-weight="normal" fill="#222222" text-anchor="end" stroke="#222222" stroke-width="0.3">0.0</text>
<text transform="translate(658.00 273.63) scale(0.880 1)" font-family="'Liberation Serif', serif" font-size="35.0" font-weight="normal" fill="#222222" text-anchor="end" stroke="#222222" stroke-width="0.3"><tspan font-weight="bold" dx="2">-</tspan><tspan dx="-1">0.1</tspan></text>
<text transform="translate(658.00 329.46) scale(0.880 1)" font-family="'Liberation Serif', serif" font-size="35.0" font-weight="normal" fill="#222222" text-anchor="end" stroke="#222222" stroke-width="0.3"><tspan font-weight="bold" dx="2">-</tspan><tspan dx="-1">0.2</tspan></text>
<text transform="translate(658.00 385.29) scale(0.880 1)" font-family="'Liberation Serif', serif" font-size="35.0" font-weight="normal" fill="#222222" text-anchor="end" stroke="#222222" stroke-width="0.3"><tspan font-weight="bold" dx="2">-</tspan><tspan dx="-1">0.3</tspan></text>
<text transform="translate(670.50 443.30) scale(0.900 1)" font-family="'Liberation Serif', serif" font-size="35.0" font-weight="normal" fill="#222222" text-anchor="middle" stroke="#222222" stroke-width="0.3">200</text>
<text transform="translate(794.83 443.30) scale(0.900 1)" font-family="'Liberation Serif', serif" font-size="35.0" font-weight="normal" fill="#222222" text-anchor="middle" stroke="#222222" stroke-width="0.3">400</text>
<text transform="translate(919.17 443.30) scale(0.900 1)" font-family="'Liberation Serif', serif" font-size="35.0" font-weight="normal" fill="#222222" text-anchor="middle" stroke="#222222" stroke-width="0.3">600</text>
<text transform="translate(1043.50 443.30) scale(0.900 1)" font-family="'Liberation Serif', serif" font-size="35.0" font-weight="normal" fill="#222222" text-anchor="middle" stroke="#222222" stroke-width="0.3">800</text>
<rect x="123.0" y="513.6" width="380.5" height="391.9" fill="none" stroke="#111" stroke-width="2"/>
<g stroke="#222" stroke-width="1.6">
<line x1="117.0" y1="905.5" x2="123.0" y2="905.5"/>
<line x1="117.0" y1="840.2" x2="123.0" y2="840.2"/>
<line x1="117.0" y1="774.9" x2="123.0" y2="774.9"/>
<line x1="117.0" y1="709.5" x2="123.0" y2="709.5"/>
<line x1="117.0" y1="644.2" x2="123.0" y2="644.2"/>
<line x1="117.0" y1="578.9" x2="123.0" y2="578.9"/>
<line x1="117.0" y1="513.6" x2="123.0" y2="513.6"/>
<line x1="120.0" y1="872.8" x2="123.0" y2="872.8"/>
<line x1="120.0" y1="807.5" x2="123.0" y2="807.5"/>
<line x1="120.0" y1="742.2" x2="123.0" y2="742.2"/>
<line x1="120.0" y1="676.9" x2="123.0" y2="676.9"/>
<line x1="120.0" y1="611.6" x2="123.0" y2="611.6"/>
<line x1="120.0" y1="546.2" x2="123.0" y2="546.2"/>
<line x1="123.0" y1="905.5" x2="123.0" y2="912.5"/>
<line x1="249.8" y1="905.5" x2="249.8" y2="912.5"/>
<line x1="376.7" y1="905.5" x2="376.7" y2="912.5"/>
<line x1="503.5" y1="905.5" x2="503.5" y2="912.5"/>
<line x1="186.4" y1="905.5" x2="186.4" y2="909.5"/>
<line x1="313.2" y1="905.5" x2="313.2" y2="909.5"/>
<line x1="440.1" y1="905.5" x2="440.1" y2="909.5"/>
</g>
<text transform="translate(110.50 524.39) scale(0.880 1)" font-family="'Liberation Serif', serif" font-size="35.0" font-weight="normal" fill="#222222" text-anchor="end" stroke="#222222" stroke-width="0.3">0.3</text>
<text transform="translate(110.50 589.71) scale(0.880 1)" font-family="'Liberation Serif', serif" font-size="35.0" font-weight="normal" fill="#222222" text-anchor="end" stroke="#222222" stroke-width="0.3">0.2</text>
<text transform="translate(110.50 655.03) scale(0.880 1)" font-family="'Liberation Serif', serif" font-size="35.0" font-weight="normal" fill="#222222" text-anchor="end" stroke="#222222" stroke-width="0.3">0.1</text>
<text transform="translate(110.50 720.35) scale(0.880 1)" font-family="'Liberation Serif', serif" font-size="35.0" font-weight="normal" fill="#222222" text-anchor="end" stroke="#222222" stroke-width="0.3">0.0</text>
<text transform="translate(110.50 785.67) scale(0.880 1)" font-family="'Liberation Serif', serif" font-size="35.0" font-weight="normal" fill="#222222" text-anchor="end" stroke="#222222" stroke-width="0.3"><tspan font-weight="bold" dx="2">-</tspan><tspan dx="-1">0.1</tspan></text>
<text transform="translate(110.50 850.99) scale(0.880 1)" font-family="'Liberation Serif', serif" font-size="35.0" font-weight="normal" fill="#222222" text-anchor="end" stroke="#222222" stroke-width="0.3"><tspan font-weight="bold" dx="2">-</tspan><tspan dx="-1">0.2</tspan></text>
<text transform="translate(110.50 916.31) scale(0.880 1)" font-family="'Liberation Serif', serif" font-size="35.0" font-weight="normal" fill="#222222" text-anchor="end" stroke="#222222" stroke-width="0.3"><tspan font-weight="bold" dx="2">-</tspan><tspan dx="-1">0.3</tspan></text>
<text transform="translate(123.00 945.00) scale(0.900 1)" font-family="'Liberation Serif', serif" font-size="35.0" font-weight="normal" fill="#222222" text-anchor="middle" stroke="#222222" stroke-width="0.3">200</text>
<text transform="translate(249.83 945.00) scale(0.900 1)" font-family="'Liberation Serif', serif" font-size="35.0" font-weight="normal" fill="#222222" text-anchor="middle" stroke="#222222" stroke-width="0.3">400</text>
<text transform="translate(376.67 945.00) scale(0.900 1)" font-family="'Liberation Serif', serif" font-size="35.0" font-weight="normal" fill="#222222" text-anchor="middle" stroke="#222222" stroke-width="0.3">600</text>
<text transform="translate(503.50 945.00) scale(0.900 1)" font-family="'Liberation Serif', serif" font-size="35.0" font-weight="normal" fill="#222222" text-anchor="middle" stroke="#222222" stroke-width="0.3">800</text>
<rect x="678.3" y="516.9" width="385.5" height="393.7" fill="none" stroke="#111" stroke-width="2"/>
<g stroke="#222" stroke-width="1.6">
<line x1="672.3" y1="910.6" x2="678.3" y2="910.6"/>
<line x1="672.3" y1="845.0" x2="678.3" y2="845.0"/>
<line x1="672.3" y1="779.4" x2="678.3" y2="779.4"/>
<line x1="672.3" y1="713.8" x2="678.3" y2="713.8"/>
<line x1="672.3" y1="648.1" x2="678.3" y2="648.1"/>
<line x1="672.3" y1="582.5" x2="678.3" y2="582.5"/>
<line x1="672.3" y1="516.9" x2="678.3" y2="516.9"/>
<line x1="675.3" y1="877.8" x2="678.3" y2="877.8"/>
<line x1="675.3" y1="812.2" x2="678.3" y2="812.2"/>
<line x1="675.3" y1="746.6" x2="678.3" y2="746.6"/>
<line x1="675.3" y1="680.9" x2="678.3" y2="680.9"/>
<line x1="675.3" y1="615.3" x2="678.3" y2="615.3"/>
<line x1="675.3" y1="549.7" x2="678.3" y2="549.7"/>
<line x1="678.3" y1="910.6" x2="678.3" y2="917.6"/>
<line x1="806.8" y1="910.6" x2="806.8" y2="917.6"/>
<line x1="935.3" y1="910.6" x2="935.3" y2="917.6"/>
<line x1="1063.8" y1="910.6" x2="1063.8" y2="917.6"/>
<line x1="742.5" y1="910.6" x2="742.5" y2="914.6"/>
<line x1="871.0" y1="910.6" x2="871.0" y2="914.6"/>
<line x1="999.5" y1="910.6" x2="999.5" y2="914.6"/>
</g>
<text transform="translate(665.80 527.69) scale(0.880 1)" font-family="'Liberation Serif', serif" font-size="35.0" font-weight="normal" fill="#222222" text-anchor="end" stroke="#222222" stroke-width="0.3">0.3</text>
<text transform="translate(665.80 593.31) scale(0.880 1)" font-family="'Liberation Serif', serif" font-size="35.0" font-weight="normal" fill="#222222" text-anchor="end" stroke="#222222" stroke-width="0.3">0.2</text>
<text transform="translate(665.80 658.93) scale(0.880 1)" font-family="'Liberation Serif', serif" font-size="35.0" font-weight="normal" fill="#222222" text-anchor="end" stroke="#222222" stroke-width="0.3">0.1</text>
<text transform="translate(665.80 724.55) scale(0.880 1)" font-family="'Liberation Serif', serif" font-size="35.0" font-weight="normal" fill="#222222" text-anchor="end" stroke="#222222" stroke-width="0.3">0.0</text>
<text transform="translate(665.80 790.17) scale(0.880 1)" font-family="'Liberation Serif', serif" font-size="35.0" font-weight="normal" fill="#222222" text-anchor="end" stroke="#222222" stroke-width="0.3"><tspan font-weight="bold" dx="2">-</tspan><tspan dx="-1">0.1</tspan></text>
<text transform="translate(665.80 855.79) scale(0.880 1)" font-family="'Liberation Serif', serif" font-size="35.0" font-weight="normal" fill="#222222" text-anchor="end" stroke="#222222" stroke-width="0.3"><tspan font-weight="bold" dx="2">-</tspan><tspan dx="-1">0.2</tspan></text>
<text transform="translate(665.80 921.41) scale(0.880 1)" font-family="'Liberation Serif', serif" font-size="35.0" font-weight="normal" fill="#222222" text-anchor="end" stroke="#222222" stroke-width="0.3"><tspan font-weight="bold" dx="2">-</tspan><tspan dx="-1">0.3</tspan></text>
<text transform="translate(678.30 951.00) scale(0.900 1)" font-family="'Liberation Serif', serif" font-size="35.0" font-weight="normal" fill="#222222" text-anchor="middle" stroke="#222222" stroke-width="0.3">200</text>
<text transform="translate(806.80 951.00) scale(0.900 1)" font-family="'Liberation Serif', serif" font-size="35.0" font-weight="normal" fill="#222222" text-anchor="middle" stroke="#222222" stroke-width="0.3">400</text>
<text transform="translate(935.30 951.00) scale(0.900 1)" font-family="'Liberation Serif', serif" font-size="35.0" font-weight="normal" fill="#222222" text-anchor="middle" stroke="#222222" stroke-width="0.3">600</text>
<text transform="translate(1063.80 951.00) scale(0.900 1)" font-family="'Liberation Serif', serif" font-size="35.0" font-weight="normal" fill="#222222" text-anchor="middle" stroke="#222222" stroke-width="0.3">800</text>
<text transform="translate(715.90 503.40) scale(0.926 1)" font-family="'Liberation Serif', serif" font-size="44" font-weight="normal" fill="#222222" text-anchor="start" stroke="#222222" stroke-width="0.3">Wavelength (nm)</text>
<text transform="translate(169.00 1005.00) scale(0.946 1)" font-family="'Liberation Serif', serif" font-size="44" font-weight="normal" fill="#222222" text-anchor="start" stroke="#222222" stroke-width="0.3">Wavelength (nm)</text>
<text transform="translate(724.20 1011.00) scale(0.962 1)" font-family="'Liberation Serif', serif" font-size="44" font-weight="normal" fill="#222222" text-anchor="start" stroke="#222222" stroke-width="0.3">Wavelength (nm)</text>
<text transform="translate(589.50 315.60) rotate(-90)" font-family="'Liberation Serif', serif" font-size="38.3" font-weight="normal" fill="#222222" text-anchor="start" stroke="#222222" stroke-width="0.3">Div. Ang. (rad)</text>
<text transform="translate(30.00 826.60) rotate(-90)" font-family="'Liberation Serif', serif" font-size="38.3" font-weight="normal" fill="#222222" text-anchor="start" stroke="#222222" stroke-width="0.3">Div. Ang. (rad)</text>
<text transform="translate(593.30 825.70) rotate(-90)" font-family="'Liberation Serif', serif" font-size="38.3" font-weight="normal" fill="#222222" text-anchor="start" stroke="#222222" stroke-width="0.3">Div. Ang. (rad)</text>
<text transform="translate(687.50 49.30) scale(1.040 1)" font-family="'Liberation Sans', sans-serif" font-size="38" font-weight="normal" fill="#fff" text-anchor="start" stroke="#fff" stroke-width="0.7">b</text>
<text transform="translate(132.30 546.50) scale(1.080 1)" font-family="'Liberation Sans', sans-serif" font-size="38" font-weight="normal" fill="#fff" text-anchor="start" stroke="#fff" stroke-width="0.7">c</text>
<text transform="translate(691.60 553.80) scale(1.040 1)" font-family="'Liberation Sans', sans-serif" font-size="38" font-weight="normal" fill="#fff" text-anchor="start" stroke="#fff" stroke-width="0.7">d</text>
<text transform="translate(687.50 107.50)" font-family="'Liberation Serif', serif" font-size="37.5" font-weight="normal" fill="#ffff00" text-anchor="start">f =10 cm</text>
<text transform="translate(132.00 612.40)" font-family="'Liberation Serif', serif" font-size="37.5" font-weight="normal" fill="#ffff00" text-anchor="start">f =20 cm</text>
<text transform="translate(691.80 612.40)" font-family="'Liberation Serif', serif" font-size="37.5" font-weight="normal" fill="#ffff00" text-anchor="start">f =30 cm</text>
<text transform="translate(705.60 284.80) scale(0.985 1)" font-family="'Liberation Serif', serif" font-size="33.5" font-weight="bold" fill="#fff" text-anchor="start" stroke="#0000ff" stroke-width="3" stroke-opacity="0.6" paint-order="stroke">Bandpass Filter</text>
<text transform="translate(203.30 865.30) scale(0.970 1)" font-family="'Liberation Serif', serif" font-size="34.5" font-weight="bold" fill="#fff" text-anchor="start">Bandpass Filter</text>
<text transform="translate(765.20 862.00)" font-family="'Liberation Serif', serif" font-size="33.5" font-weight="bold" fill="#fff" text-anchor="start">Bandpass Filter</text>
</svg></body></html>
